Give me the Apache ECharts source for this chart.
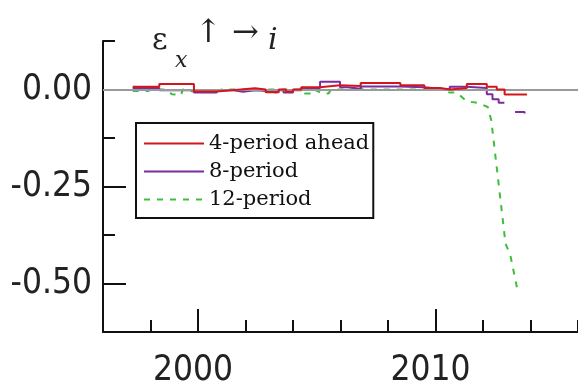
<!DOCTYPE html>
<html>
<head>
<meta charset="utf-8">
<script src="https://cdn.jsdelivr.net/npm/echarts@6/dist/echarts.min.js"></script>
<style>html,body{margin:0;padding:0;background:#fff;}#c{width:578px;height:390px;}</style>
</head>
<body>
<div id="c"></div>
<script>
// ---- data ----
const seriesNames = ['4-period ahead', '8-period', '12-period'];

const redYears = [1997.25, 1998.37, 1999.83, 2000.79, 2001.8, 2002.4, 2002.85, 2003.4, 2003.7, 2004.0, 2004.35, 2005.14, 2005.98, 2006.85, 2008.52, 2009.53, 2010.2, 2010.6, 2011.32, 2012.16, 2012.58, 2012.91, 2013.85];
const redValues = [0.007, 0.014, -0.005, 0.0, 0.003, 0.0, -0.007, 0.0, -0.006, 0.0, 0.006, 0.011, 0.009, 0.017, 0.011, 0.004, 0.0, 0.004, 0.014, 0.007, 0.0, -0.013, -0.013];

const purpleYears = [1997.25, 1998.37, 1999.83, 2000.79, 2001.5, 2001.9, 2002.4, 2002.9, 2003.3, 2003.6, 2004.0, 2004.35, 2005.14, 2005.98, 2006.3, 2006.85, 2008.52, 2009.53, 2010.2, 2010.6, 2011.32, 2012.16, 2012.4, 2012.66, 2012.9, 2013.35, 2013.75];
const purpleValues = [0.004, -0.002, -0.008, -0.002, -0.006, -0.002, -0.004, -0.008, -0.002, -0.008, -0.002, 0.004, 0.02, 0.006, 0.002, 0.008, 0.006, 0.002, 0.0, 0.007, 0.004, -0.012, -0.025, -0.034, null, -0.058, -0.062];

const greenYears = [1997.25, 1997.9, 1998.0, 1998.66, 1998.9, 1999.29, 1999.35, 1999.8, 2000.8, 2001.0, 2004.45, 2004.5, 2004.85, 2004.9, 2005.2, 2005.5, 2005.6, 2006.55, 2006.6, 2006.85, 2006.9, 2008.0, 2010.2, 2010.6, 2010.9, 2011.3, 2011.8, 2012.2, 2012.35, 2012.95, 2013.14, 2013.43];
const greenValues = [-0.004, -0.004, 0.0, 0.0, -0.012, -0.015, 0.0, -0.005, -0.005, 0.0, 0.0, -0.01, -0.01, 0.0, -0.01, -0.01, 0.0, 0.0, 0.01, 0.01, 0.0, 0.0, 0.0, -0.008, -0.008, -0.03, -0.035, -0.045, -0.08, -0.398, -0.424, -0.51];

const xMajorTicks = [2000, 2010];
const xMinorTicks = [1998, 2002, 2004, 2006, 2008, 2012, 2014, 2016];
const yMajorTicks = [0, -0.25, -0.5];
const yMinorTicks = [0.125, -0.125, -0.375];

const titleParts = { eps: 'ε', sub: 'x', arrows: '↑ →', idx: 'i' };

// ---- build ----
const pairs = (xs, ys) => xs.map((x, i) => [x, ys[i]]);
const numFont = '"Liberation Sans Narrow", "Arial Narrow", "DejaVu Sans Condensed", sans-serif';
const serif = '"DejaVu Serif", "Liberation Serif", serif';

const chart = echarts.init(document.getElementById('c'), null, { renderer: 'canvas' });
const axisCommon = { type: 'value', min: 1996, max: 2016, splitLine: { show: false } };
chart.setOption({
  animation: false,
  backgroundColor: '#fff',
  grid: { left: 103, top: 41, width: 479, height: 291, containLabel: false },
  xAxis: [
    Object.assign({}, axisCommon, {
      position: 'bottom',
      axisLine: { show: true, onZero: false, lineStyle: { color: '#111', width: 2 } },
      axisTick: { show: true, inside: true, length: 23, customValues: xMajorTicks, lineStyle: { color: '#111', width: 2 } },
      axisLabel: { show: true, customValues: xMajorTicks, margin: 21, padding: [0, 10, 0, 0],
        fontFamily: numFont, fontSize: 35, color: '#222', formatter: v => String(v) }
    }),
    Object.assign({}, axisCommon, {
      position: 'bottom',
      axisLine: { show: false, onZero: false },
      axisTick: { show: true, inside: true, length: 12, customValues: xMinorTicks, lineStyle: { color: '#111', width: 2 } },
      axisLabel: { show: false }
    })
  ],
  yAxis: [
    {
      type: 'value', min: -0.625, max: 0.125, position: 'left', splitLine: { show: false },
      axisLine: { show: true, onZero: false, lineStyle: { color: '#111', width: 2 } },
      axisTick: { show: true, inside: true, length: 23, customValues: yMajorTicks, lineStyle: { color: '#111', width: 2 } },
      axisLabel: { show: true, customValues: yMajorTicks, margin: 11, padding: [6, 0, 0, 0],
        fontFamily: numFont, fontSize: 35, color: '#222', formatter: v => v.toFixed(2) }
    },
    {
      type: 'value', min: -0.625, max: 0.125, position: 'left', splitLine: { show: false },
      axisLine: { show: false, onZero: false },
      axisTick: { show: true, inside: true, length: 12, customValues: yMinorTicks, lineStyle: { color: '#111', width: 2 } },
      axisLabel: { show: false }
    }
  ],
  legend: {
    orient: 'vertical', left: 136, top: 123,
    data: seriesNames,
    backgroundColor: '#fff', borderColor: '#111', borderWidth: 2,
    padding: [10, 4, 8, 7], itemGap: 7, itemWidth: 60, itemHeight: 14,
    itemStyle: { opacity: 0 },
    textStyle: { fontFamily: serif, fontSize: 21, color: '#111' }
  },
  graphic: [
    { type: 'text', left: 152, top: 26, style: { text: titleParts.eps, font: '30px ' + serif, fill: '#222' } },
    { type: 'text', left: 175, top: 50, style: { text: titleParts.sub, font: 'italic 22px ' + serif, fill: '#222' } },
    { type: 'text', left: 195, top: 18, style: { text: titleParts.arrows, font: '32px ' + serif, fill: '#222' } },
    { type: 'text', left: 268, top: 26, style: { text: titleParts.idx, font: 'italic 30px ' + serif, fill: '#222' } }
  ],
  series: [
    {
      type: 'line', name: 'zero', data: [], silent: true, z: 1,
      markLine: { silent: true, symbol: 'none', label: { show: false },
        lineStyle: { color: '#9a9a9a', width: 2, type: 'solid' }, data: [{ yAxis: 0 }] }
    },
    {
      type: 'line', name: seriesNames[2], data: pairs(greenYears, greenValues), z: 3,
      showSymbol: false, symbol: 'none', color: '#3cbf3c',
      lineStyle: { color: '#3cbf3c', width: 2, type: [6, 7] }
    },
    {
      type: 'line', name: seriesNames[1], data: pairs(purpleYears, purpleValues), z: 4, step: 'end',
      showSymbol: false, symbol: 'none', color: '#7b2d9e',
      lineStyle: { color: '#7b2d9e', width: 2 }
    },
    {
      type: 'line', name: seriesNames[0], data: pairs(redYears, redValues), z: 5, step: 'end',
      showSymbol: false, symbol: 'none', color: '#d4161c',
      lineStyle: { color: '#d4161c', width: 2 }
    }
  ]
});
</script>
</body>
</html>
